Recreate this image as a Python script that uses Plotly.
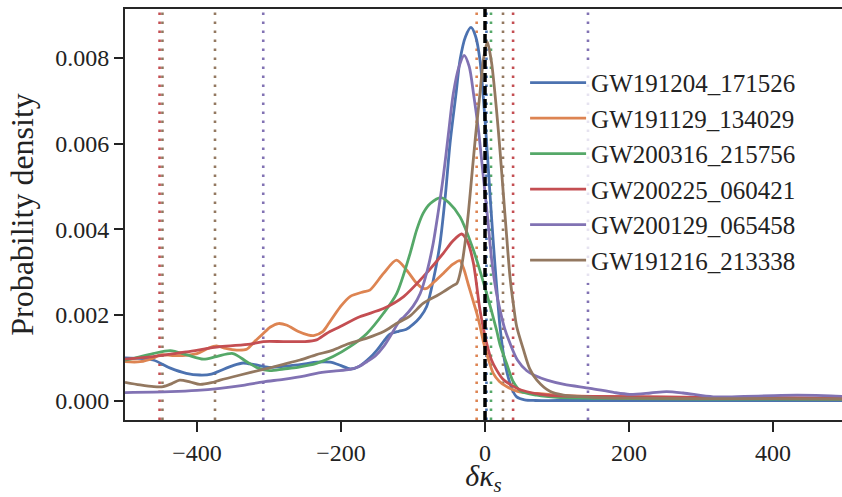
import plotly.graph_objects as go

# ---------------- data ----------------
names = ["GW191204_171526", "GW191129_134029", "GW200316_215756",
         "GW200225_060421", "GW200129_065458", "GW191216_213338"]
colors = ["#4C72B0", "#DD8452", "#55A868", "#C44E52", "#8172B3", "#937860"]

blue_x = [-500, -461, -437, -415, -396, -380, -368, -350, -336, -320, -300, -280, -250, -234, -215, -200,
          -187, -175, -160, -150, -140, -132, -120, -110, -100, -90, -81, -72, -62.5, -55, -48.6, -40,
          -34.7, -27, -19.4, -13, -7, -2, 2.3, 7, 11.6, 16, 20.8, 26, 32, 38, 44, 55, 70, 100, 200, 300, 400, 500]
blue_y = [1.00, 0.95, 0.76, 0.64, 0.60, 0.62, 0.70, 0.82, 0.88, 0.84, 0.78, 0.80, 0.86, 0.90, 0.90, 0.82,
          0.74, 0.80, 1.00, 1.18, 1.40, 1.55, 1.62, 1.66, 1.78, 1.95, 2.20, 2.80, 3.67, 4.80, 6.00, 7.20,
          7.95, 8.50, 8.71, 8.50, 7.95, 7.00, 6.00, 4.80, 3.67, 2.70, 1.73, 1.05, 0.56, 0.25, 0.09, 0.02, 0.005, 0.005, 0.005, 0.005, 0.005, 0.005]

orange_x = [-500, -479, -460, -451, -430, -400, -385, -373, -360, -345, -331, -320, -308, -298, -287, -275,
            -260, -245, -238, -225, -220, -201, -187.5, -169, -160, -141, -123, -109, -95, -86, -81, -70,
            -58, -45, -35, -30, -23, -16, -11.6, -7, -2.3, 5, 11.5, 20, 30, 45, 72, 100, 150, 200, 300, 400, 500]
orange_y = [0.91, 0.91, 1.00, 1.07, 1.05, 1.10, 1.22, 1.28, 1.22, 1.18, 1.20, 1.38, 1.57, 1.72, 1.80, 1.76,
            1.62, 1.53, 1.52, 1.62, 1.73, 2.19, 2.43, 2.54, 2.58, 2.97, 3.28, 3.05, 2.74, 2.62, 2.62, 2.78,
            2.97, 3.18, 3.27, 3.10, 2.70, 2.30, 2.05, 1.75, 1.38, 0.95, 0.64, 0.45, 0.33, 0.22, 0.17, 0.13, 0.10, 0.09, 0.07, 0.06, 0.05]

green_x = [-500, -488, -461, -437, -414, -391, -373, -350, -331, -315, -299, -280, -260, -234, -211, -187.5,
           -164, -141, -122.7, -104, -95, -86, -76, -61, -50, -34.7, -16, 2.3, 16, 21, 30, 39, 50, 72,
           100, 200, 300, 400, 500]
green_y = [0.95, 0.99, 1.10, 1.17, 1.07, 0.97, 1.03, 1.10, 0.91, 0.76, 0.70, 0.74, 0.78, 0.87, 1.03, 1.26,
           1.57, 2.04, 2.50, 3.44, 3.98, 4.37, 4.60, 4.74, 4.62, 4.29, 3.51, 2.50, 1.65, 1.30, 0.87, 0.45, 0.22, 0.13,
           0.08, 0.05, 0.04, 0.04, 0.03]

red_x = [-500, -461, -414, -368, -326, -308, -280, -250, -234, -220, -201, -174, -141, -113, -86, -58, -45,
         -32.4, -24, -16, -7, 2.3, 9, 16, 25, 34.7, 50, 86, 150, 250, 300, 400, 500]
red_y = [0.97, 1.03, 1.14, 1.26, 1.32, 1.38, 1.38, 1.38, 1.42, 1.57, 1.73, 1.96, 2.15, 2.43, 2.89, 3.44, 3.72,
         3.89, 3.70, 3.20, 2.12, 1.34, 0.95, 0.72, 0.50, 0.38, 0.25, 0.13, 0.10, 0.09, 0.08, 0.07, 0.06]

purple_x = [-500, -437, -400, -368, -336, -308, -280, -250, -234, -210, -187.5, -175, -164, -152, -141, -130,
            -118, -113, -100, -90, -80, -72, -65, -58, -51, -44, -36, -29, -22, -16, -9, -2.3, 4, 9.3, 15,
            20.8, 27, 34.7, 45, 58, 70, 86, 110, 146, 180, 201, 230, 252, 275, 317, 360, 400, 433, 470, 500]
purple_y = [0.19, 0.21, 0.24, 0.29, 0.36, 0.44, 0.50, 0.58, 0.64, 0.69, 0.73, 0.80, 0.91, 1.05, 1.26, 1.55,
            1.88, 1.95, 2.20, 2.50, 3.05, 3.67, 4.40, 5.22, 6.20, 7.17, 7.80, 8.06, 7.80, 7.17, 6.30, 5.22, 4.20, 3.28, 2.60,
            2.12, 1.70, 1.34, 0.95, 0.70, 0.58, 0.48, 0.38, 0.29, 0.19, 0.15, 0.18, 0.21, 0.18, 0.09, 0.10, 0.12, 0.13, 0.12, 0.10]

brown_x = [-500, -479, -460, -447, -435, -424, -410, -396, -380, -368, -340, -308, -280, -257, -235, -211,
           -190, -164, -140, -123, -104, -86, -67, -58, -45, -39, -33, -27.8, -23, -18.5, -13, -7, -2.3,
           3.2, 9, 16, 21, 25.4, 30, 34.7, 39, 44, 53.6, 62, 72, 90, 109, 150, 200, 300, 400, 500]
brown_y = [0.43, 0.37, 0.33, 0.33, 0.40, 0.48, 0.44, 0.38, 0.42, 0.48, 0.60, 0.73, 0.85, 0.95, 1.07, 1.18,
           1.33, 1.46, 1.62, 1.80, 1.98, 2.27, 2.45, 2.54, 2.68, 2.74, 3.10, 3.67, 4.40, 5.22, 6.20, 7.17, 7.95,
           8.37, 7.90, 6.78, 5.80, 4.84, 3.85, 2.89, 2.30, 1.73, 1.18, 0.75, 0.48, 0.22, 0.13, 0.08, 0.06, 0.05, 0.05, 0.04]

series_x = [blue_x, orange_x, green_x, red_x, purple_x, brown_x]
series_y = [blue_y, orange_y, green_y, red_y, purple_y, brown_y]   # in units of 1e-3

# dotted interval bounds (series index, x value)
bound_series = [3, 5, 5, 4, 1, 0, 2, 5, 3, 4]
bound_values = [-452, -448, -375, -308, -11.6, 2, 8.3, 25, 39, 143]
gr_value = 0

y_ticks = [0.0, 0.002, 0.004, 0.006, 0.008]
x_ticks = [-400, -200, 0, 200, 400]

# ---------------- figure ----------------
FONT = "Liberation Serif"
fig = go.Figure()

for bi, bv in zip(bound_series, bound_values):
    fig.add_vline(x=bv, line=dict(color=colors[bi], width=2.6, dash="2.6px,6.4px"), layer="below")
fig.add_vline(x=gr_value, line=dict(color="black", width=3.5, dash="9px,4px"), layer="above")

for name, col, xs, ys in zip(names, colors, series_x, series_y):
    fig.add_trace(go.Scatter(
        x=xs, y=[v * 1e-3 for v in ys], mode="lines", name=name, legendgroup=name,
        line=dict(color=col, width=2.8, shape="spline", smoothing=0.8),
    ))

fig.update_layout(
    width=842, height=497,
    margin=dict(l=125, r=0, t=9, b=77),
    paper_bgcolor="white", plot_bgcolor="white",
    font=dict(family=FONT, size=24, color="#222222"),
    showlegend=True,
    legend=dict(
        x=0.558, y=0.876, xanchor="left", yanchor="top",
        bgcolor="rgba(255,255,255,0.8)", borderwidth=0,
        font=dict(family=FONT, size=25, color="#222222"),
        itemwidth=56, tracegroupgap=0,
    ),
)
fig.update_xaxes(
    range=[-500, 495.8], tickvals=x_ticks, ticks="outside", ticklen=10, tickwidth=1.8,
    tickcolor="#222222", showline=True, linecolor="#262626", linewidth=2, mirror=True,
    showgrid=False, zeroline=False, tickfont=dict(size=24), automargin=False,
    title=dict(text="<i>δκ</i><sub><i>s</i></sub>", font=dict(size=30), standoff=10),
)
fig.update_yaxes(
    range=[-0.00045, 0.00914], tickvals=y_ticks, tickformat=".3f", ticks="outside", ticklen=9,
    tickwidth=1.8, tickcolor="#222222", showline=True, linecolor="#262626", linewidth=2,
    showgrid=False, zeroline=False, tickfont=dict(size=24), automargin=False,
    title=dict(text="Probability density", font=dict(size=32), standoff=12),
)

# remove the default page margin so the figure fills the window exactly
fig.write_html("out.html", config={"displayModeBar": False},
               post_script="document.body.style.margin='0';document.body.style.overflow='hidden';")
